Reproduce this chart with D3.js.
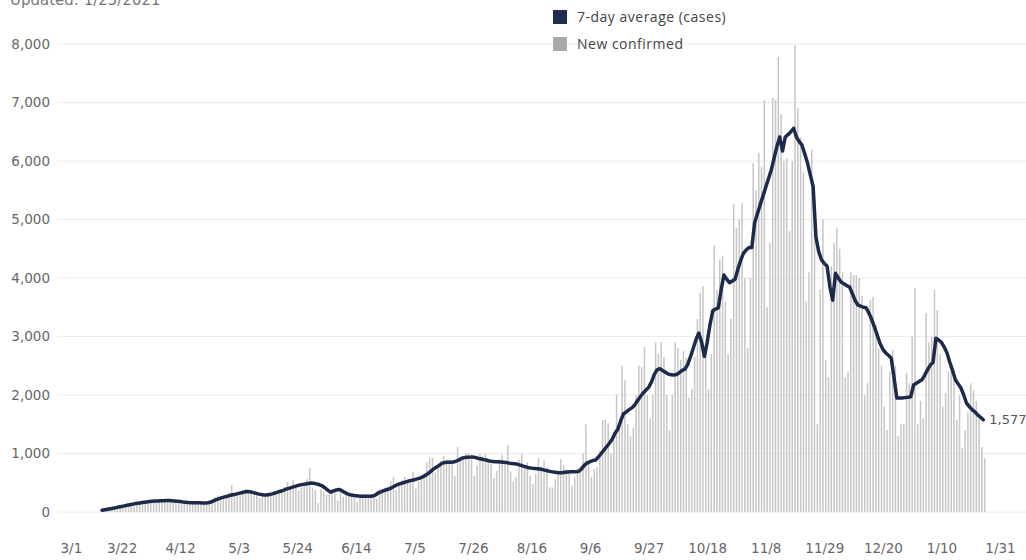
<!DOCTYPE html>
<html><head><meta charset="utf-8">
<script src="https://cdn.jsdelivr.net/npm/d3@7"></script>
<style>
body{margin:0;background:#fff;}
svg{display:block;font-family:"DejaVu Sans",Verdana,sans-serif;}
</style></head><body>
<svg id="chart" width="1026" height="560"></svg>
<script>
// ---------- DATA ----------
const startDate = "2020-03-15";   // first day of the daily series
const updatedText = "Updated: 1/25/2021";
const legendLabels = ["7-day average (cases)", "New confirmed"];

// Daily new confirmed cases, one row per week (Sun..Sat)
const newCases = [
  22, 28, 35, 52, 78, 106, 110,
  90, 100, 135, 140, 130, 195, 160,
  140, 170, 190, 210, 200, 190, 170,
  180, 210, 195, 210, 180, 175, 160,
  130, 150, 175, 165, 175, 150, 140,
  130, 170, 165, 180, 220, 260, 280,
  240, 230, 250, 330, 460, 330, 300,
  300, 340, 390, 340, 350, 330, 310,
  240, 260, 300, 330, 280, 320, 300,
  380, 350, 420, 510, 400, 545, 430,
  360, 420, 460, 560, 750, 420, 380,
  150, 400, 350, 300, 360, 330, 410,
  200, 380, 260, 300, 270, 310, 260,
  170, 310, 280, 300, 280, 260, 300,
  220, 390, 330, 420, 430, 520, 600,
  380, 450, 540, 600, 550, 560, 690,
  400, 520, 600, 660, 850, 930, 930,
  680, 750, 870, 960, 900, 900, 900,
  620, 1110, 900, 960, 1000, 1000, 980,
  620, 800, 1000, 950, 1000, 900, 820,
  580, 700, 900, 980, 850, 1150, 690,
  520, 600, 900, 1000, 800, 850, 620,
  480, 650, 920, 780, 880, 770, 420,
  420, 560, 700, 900, 800, 730, 690,
  450, 600, 700, 780, 1000, 1500, 860,
  600, 740, 770, 1050, 1570, 1580, 1520,
  1010, 1230, 2000, 1500, 2500, 2250, 1500,
  1290, 1440, 2000, 2500, 2480, 2820, 2000,
  1600, 2000, 2900, 2700, 2900, 2650, 2000,
  1400, 2000, 2900, 2800, 2600, 2750, 2640,
  1950, 2100, 2650, 3300, 3750, 3860, 2750,
  2100, 2700, 4560, 3800, 4310, 4380, 3600,
  2700, 3300, 5260, 4850, 5000, 5280, 4000,
  2800, 4000, 5960, 5500, 6140, 5900, 7040,
  3500, 4600, 7080, 7050, 7780, 6800, 6000,
  6050, 4800, 6000, 7980, 6900, 6400, 5800,
  3600, 4100, 6190, 5200, 1500, 3800, 5000,
  2600, 2300, 4200, 4600, 4850, 4500, 4100,
  2300, 2400, 4100, 4050, 4050, 4000, 3700,
  2000, 2200, 3620, 3680, 3200, 2800, 2500,
  1800, 1400, 2400, 2770, 2500, 1300, 1500,
  1500, 2380, 2200, 3000, 3830, 1500, 1900,
  1600, 3400, 2900, 3000, 3800, 3450, 2700,
  1800, 2030, 2400, 2500, 2400, 1570, 2000,
  1100, 1400, 1700, 2200, 2080, 1900, 1600,
  1110, 920
];

// 7-day average (cases), same days
const avg7 = [
  30, 38, 47, 56, 65, 75, 85,
  95, 105, 115, 125, 135, 145, 150,
  158, 165, 172, 178, 183, 187, 190,
  192, 194, 195, 195, 192, 188, 183,
  178, 172, 168, 163, 160, 158, 157,
  156, 155, 155, 158, 170, 190, 210,
  230, 245, 258, 270, 285, 295, 305,
  318, 330, 342, 350, 345, 335, 322,
  310, 300, 292, 290, 298, 310, 325,
  340, 355, 370, 390, 405, 420, 435,
  450, 462, 472, 480, 488, 495, 490,
  478, 465, 445, 410, 370, 340, 360,
  375, 385, 365, 335, 310, 295, 285,
  278, 272, 270, 268, 268, 270, 272,
  290, 325, 345, 365, 380, 395, 420,
  445, 470, 485, 500, 515, 530, 540,
  550, 565, 580, 600, 630, 660, 700,
  740, 770, 800, 835, 845, 850, 852,
  855, 870, 890, 920, 930, 935, 938,
  940, 930, 915, 905, 895, 885, 870,
  865, 860, 858, 855, 850, 845, 835,
  830, 825, 815, 800, 785, 770, 755,
  750, 745, 740, 735, 725, 712, 700,
  690, 682, 676, 670, 672, 678, 685,
  688, 690, 688, 695, 740, 800, 840,
  860, 880, 890, 940, 1000, 1060, 1120,
  1180, 1250, 1350, 1420, 1560, 1680, 1710,
  1750, 1780, 1830, 1900, 1970, 2030, 2080,
  2130, 2220, 2350, 2430, 2450, 2420, 2390,
  2360, 2345, 2340, 2350, 2380, 2420, 2440,
  2520, 2650, 2800, 2950, 3060, 2900, 2660,
  2900, 3200, 3440, 3470, 3490, 3800, 4050,
  3980, 3920, 3950, 3980, 4150, 4300, 4420,
  4480, 4520, 4520, 4940, 5100, 5250, 5400,
  5550, 5700, 5850, 6050, 6250, 6410, 6170,
  6410, 6450, 6500, 6560, 6410, 6330, 6270,
  6120, 5960, 5760, 5560, 4700, 4450, 4310,
  4250, 4200, 3850, 3620, 4080, 4000, 3930,
  3900, 3870, 3850, 3740, 3620, 3540, 3520,
  3500, 3490, 3400, 3290, 3160, 3020, 2880,
  2780, 2720, 2680, 2630, 2300, 1950, 1950,
  1950, 1955, 1960, 1970, 2170, 2200, 2230,
  2260, 2340, 2430, 2510, 2560, 2970, 2940,
  2900, 2820, 2720, 2560, 2420, 2260, 2190,
  2120, 2000, 1860, 1800, 1750, 1710, 1660,
  1620, 1577
];

const xTickLabels = ["3/1","3/22","4/12","5/3","5/24","6/14","7/5","7/26","8/16","9/6","9/27","10/18","11/8","11/29","12/20","1/10","1/31"];
const yTickValues = [0, 1000, 2000, 3000, 4000, 5000, 6000, 7000, 8000];

// ---------- CHART ----------
const W = 1026, H = 560;
const svg = d3.select("#chart");
const parse = d3.timeParse("%Y-%m-%d");
const d0 = parse(startDate);
const dayDates = newCases.map((_, i) => d3.timeDay.offset(d0, i));
const labelDate = s => { const [m, d] = s.split("/").map(Number); return new Date(m >= 3 ? 2020 : 2021, m - 1, d); };
const tickDates = xTickLabels.map(labelDate);

const x = d3.scaleTime().domain([tickDates[0], tickDates[tickDates.length - 1]]).range([63, 1000]);
const y = d3.scaleLinear().domain([0, 8000]).range([512, 44]);
const dayW = x(d3.timeDay.offset(d0, 1)) - x(d0);
const tickFont = "DejaVu Sans, Verdana, sans-serif";

// grid
svg.append("g").selectAll("line").data(yTickValues).join("line")
  .attr("x1", 57).attr("x2", W)
  .attr("y1", d => y(d)).attr("y2", d => y(d))
  .attr("stroke", "#ececec").attr("stroke-width", 1);

// y axis labels
const yAxis = d3.axisLeft(y).tickValues(yTickValues).tickSize(0).tickPadding(0).tickFormat(d3.format(","));
const gy = svg.append("g").attr("transform", "translate(50,0)").call(yAxis);
gy.select(".domain").remove();
gy.selectAll("text").attr("fill", "#666").style("font-size", "13.5px").style("font-family", tickFont);

// x axis labels
const xAxis = d3.axisBottom(x).tickValues(tickDates).tickSize(0).tickPadding(0)
  .tickFormat((d, i) => xTickLabels[i]);
const gx = svg.append("g").attr("transform", "translate(0,543)").call(xAxis);
gx.select(".domain").remove();
gx.selectAll("text").attr("fill", "#666").style("font-size", "13.5px").style("font-family", tickFont);
gx.select(".tick text").attr("text-anchor", "start").attr("dx", "-3");

// bars
svg.append("g").selectAll("rect").data(newCases).join("rect")
  .attr("x", (d, i) => x(dayDates[i]) + dayW / 2 - 0.75)
  .attr("width", 1.5)
  .attr("y", d => y(d))
  .attr("height", d => y(0) - y(d))
  .attr("fill", "#c6c6c6");

// line
const line = d3.line().x((d, i) => x(dayDates[i])).y(d => y(d)).curve(d3.curveLinear);
svg.append("path").datum(avg7).attr("d", line)
  .attr("fill", "none").attr("stroke", "#1e2a4a").attr("stroke-width", 3.5)
  .attr("stroke-linejoin", "round").attr("stroke-linecap", "round");

// end label
const li = avg7.length - 1;
svg.append("text").attr("x", x(dayDates[li]) + 6).attr("y", y(avg7[li])).attr("dy", "0.35em")
  .attr("fill", "#555").style("font-size", "13px").style("font-family", tickFont).text(d3.format(",")(avg7[li]));

// title (partially cut off at top, as in the source image)
svg.append("text").attr("x", 10).attr("y", 5).attr("fill", "#777")
  .style("font-size", "15px").style("font-family", tickFont).text(updatedText);

// legend
const legColors = ["#1f2d50", "#a9a9a9"];
const lg = svg.append("g").attr("transform", "translate(553,10)");
legendLabels.forEach((t, i) => {
  lg.append("rect").attr("x", 0).attr("y", i * 27).attr("width", 14).attr("height", 14).attr("fill", legColors[i]);
  lg.append("text").attr("x", 24).attr("y", i * 27 + 7).attr("dy", "0.35em")
    .attr("fill", "#444").style("font-family", "'Open Sans', 'Noto Sans', sans-serif")
    .style("font-size", "14px").style("letter-spacing", "0.5px").text(t);
});
</script>
</body></html>
